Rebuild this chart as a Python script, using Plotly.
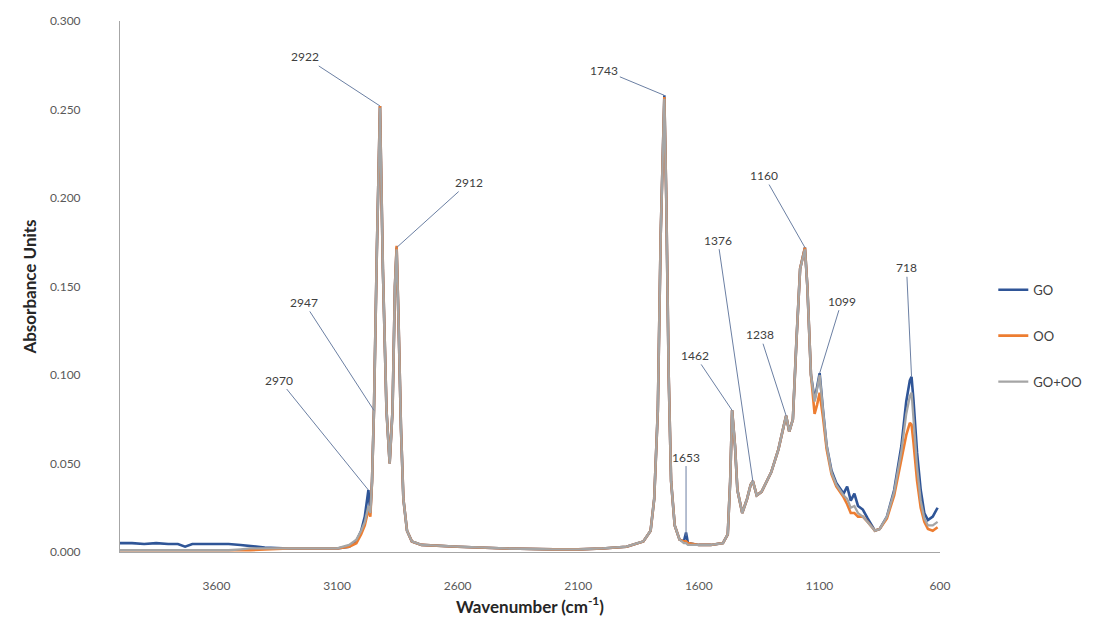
import plotly.graph_objects as go

# Wavenumbers (cm-1), descending
wavenumber = [4000, 3950, 3900, 3850, 3800, 3760, 3730, 3700, 3650, 3600, 3550, 3500, 3460,
              3400, 3300, 3200, 3100, 3050, 3020, 3000, 2985, 2970, 2962, 2955, 2947,
              2935, 2922, 2910, 2895, 2882, 2870, 2860, 2853, 2845, 2835, 2825, 2810,
              2790, 2750, 2600, 2400, 2200, 2100, 2000, 1900, 1830, 1800, 1785, 1770,
              1758, 1743, 1735, 1725, 1715, 1700, 1680, 1662, 1653, 1645, 1600, 1550,
              1500, 1480, 1470, 1462, 1450, 1440, 1420, 1400, 1385, 1376, 1360, 1340,
              1300, 1270, 1250, 1238, 1225, 1210, 1195, 1180, 1160, 1150, 1135, 1120,
              1110, 1099, 1085, 1070, 1050, 1030, 1000, 985, 970, 955, 940, 920, 900,
              870, 850, 820, 790, 760, 740, 725, 718, 710, 695, 680, 665, 650, 630, 610]

go_abs = [0.005, 0.005, 0.0045, 0.005, 0.0045, 0.0045, 0.003, 0.0045, 0.0045, 0.0045, 0.0045, 0.004, 0.0035,
          0.0025, 0.002, 0.002, 0.002, 0.003, 0.006, 0.012, 0.020, 0.035, 0.022, 0.040, 0.080,
          0.170, 0.252, 0.160, 0.080, 0.050, 0.080, 0.150, 0.172, 0.130, 0.070, 0.030, 0.012,
          0.006, 0.004, 0.003, 0.002, 0.0015, 0.0015, 0.002, 0.003, 0.006, 0.012, 0.030, 0.080,
          0.180, 0.258, 0.200, 0.100, 0.040, 0.015, 0.007, 0.006, 0.011, 0.005, 0.004, 0.004,
          0.005, 0.010, 0.040, 0.080, 0.060, 0.035, 0.022, 0.030, 0.038, 0.040, 0.032, 0.034,
          0.045, 0.058, 0.070, 0.077, 0.068, 0.075, 0.120, 0.160, 0.172, 0.150, 0.100, 0.086,
          0.093, 0.101, 0.080, 0.060, 0.046, 0.039, 0.033, 0.037, 0.029, 0.033, 0.026, 0.024, 0.019,
          0.012, 0.013, 0.020, 0.035, 0.060, 0.085, 0.097, 0.099, 0.086, 0.056, 0.035, 0.022, 0.018, 0.020, 0.025]

oo_abs = [0.001, 0.001, 0.001, 0.001, 0.001, 0.001, 0.001, 0.001, 0.001, 0.001, 0.001, 0.001, 0.001,
          0.0015, 0.002, 0.002, 0.002, 0.003, 0.005, 0.010, 0.015, 0.024, 0.020, 0.040, 0.080,
          0.170, 0.252, 0.160, 0.080, 0.050, 0.080, 0.150, 0.173, 0.130, 0.070, 0.030, 0.012,
          0.006, 0.004, 0.003, 0.002, 0.0015, 0.0015, 0.002, 0.003, 0.006, 0.012, 0.030, 0.080,
          0.180, 0.257, 0.200, 0.100, 0.040, 0.015, 0.007, 0.006, 0.006, 0.005, 0.004, 0.004,
          0.005, 0.010, 0.040, 0.080, 0.060, 0.035, 0.022, 0.030, 0.038, 0.040, 0.032, 0.034,
          0.045, 0.058, 0.070, 0.077, 0.068, 0.075, 0.120, 0.160, 0.172, 0.150, 0.100, 0.078,
          0.083, 0.090, 0.076, 0.058, 0.044, 0.037, 0.031, 0.027, 0.022, 0.022, 0.020, 0.020, 0.017,
          0.012, 0.013, 0.019, 0.032, 0.052, 0.066, 0.073, 0.072, 0.062, 0.040, 0.025, 0.017, 0.013, 0.012, 0.014]

gooo_abs = [0.001, 0.001, 0.001, 0.001, 0.001, 0.001, 0.001, 0.001, 0.001, 0.001, 0.001, 0.0015, 0.002,
            0.002, 0.002, 0.002, 0.002, 0.004, 0.007, 0.012, 0.017, 0.026, 0.022, 0.040, 0.080,
            0.170, 0.251, 0.160, 0.080, 0.050, 0.080, 0.150, 0.171, 0.130, 0.070, 0.030, 0.012,
            0.006, 0.004, 0.003, 0.002, 0.0015, 0.0015, 0.002, 0.003, 0.006, 0.012, 0.030, 0.080,
            0.180, 0.256, 0.200, 0.100, 0.040, 0.015, 0.007, 0.005, 0.005, 0.004, 0.004, 0.004,
            0.005, 0.010, 0.040, 0.080, 0.060, 0.035, 0.022, 0.030, 0.038, 0.040, 0.032, 0.034,
            0.045, 0.058, 0.070, 0.077, 0.068, 0.075, 0.120, 0.160, 0.171, 0.150, 0.100, 0.085,
            0.092, 0.100, 0.080, 0.060, 0.045, 0.038, 0.032, 0.030, 0.025, 0.026, 0.022, 0.020, 0.017,
            0.012, 0.013, 0.020, 0.034, 0.057, 0.078, 0.088, 0.090, 0.076, 0.048, 0.029, 0.019, 0.015, 0.015, 0.017]

series_names = ["GO", "OO", "GO+OO"]
series_colors = ["#2F5597", "#ED7D31", "#A5A5A5"]
series_widths = [2.6, 2.6, 2.3]

# Peak labels
peak_labels = ["2922", "2912", "2947", "2970", "1743", "1653", "1462", "1376", "1238", "1160", "1099", "718"]
peak_x = [2922, 2853, 2947, 2970, 1743, 1653, 1462, 1376, 1238, 1160, 1099, 718]
peak_y = [0.252, 0.172, 0.080, 0.035, 0.258, 0.009, 0.080, 0.040, 0.077, 0.172, 0.101, 0.099]
label_dx = [-75, 72, -70, -89, -60, 0, -37, -35, -26, -41, 22, -5]
label_dy = [-49, -65, -108, -110, -25, -79, -55, -241, -81, -72, -72, -109]

x_ticks = [3600, 3100, 2600, 2100, 1600, 1100, 600]
y_ticks = [0.0, 0.05, 0.10, 0.15, 0.20, 0.25, 0.30]

series_vals = [go_abs, oo_abs, gooo_abs]

fig = go.Figure()
for name, vals, col, w in zip(series_names, series_vals, series_colors, series_widths):
    fig.add_trace(go.Scatter(x=wavenumber, y=vals, mode="lines", name=name,
                             legendgroup=name,
                             line=dict(color=col, width=w)))

for t, x, y, dx, dy in zip(peak_labels, peak_x, peak_y, label_dx, label_dy):
    fig.add_annotation(x=x, y=y, text=t, showarrow=True, arrowhead=0, arrowwidth=1,
                       arrowcolor="#6B7FA3", ax=dx, ay=dy, axref="pixel", ayref="pixel",
                       font=dict(size=12, color="#404040", family="Lato"))

fig.update_layout(
    width=1112, height=635,
    margin=dict(l=112, r=180, t=13, b=91),
    paper_bgcolor="white", plot_bgcolor="white",
    font=dict(family="Lato", color="#595959"),
    showlegend=True,
    legend=dict(x=1.065, y=0.522, xanchor="left", yanchor="top",
                tracegroupgap=26, font=dict(size=13, color="#404040"),
                itemwidth=30),
    xaxis=dict(range=[4000, 600], tickvals=x_ticks, ticktext=[str(v) for v in x_ticks],
               showgrid=False, zeroline=False, showline=True, linecolor="#A6A6A6",
               linewidth=1, ticks="", ticklabelstandoff=23, automargin=False,
               tickfont=dict(size=12, color="#595959"),
               title=dict(text="<b>Wavenumber (cm<sup>-1</sup>)</b>",
                          font=dict(size=17, color="#262626"), standoff=4)),
    yaxis=dict(range=[0, 0.3], tickvals=y_ticks, tickformat=".3f",
               showgrid=False, zeroline=False, showline=True, linecolor="#A6A6A6",
               linewidth=1, ticks="", ticklabelstandoff=36, automargin=False,
               tickfont=dict(size=12, color="#595959"),
               title=dict(text="<b>Absorbance Units</b>",
                          font=dict(size=17, color="#262626"), standoff=8)),
)

fig.write_html("out.html")
